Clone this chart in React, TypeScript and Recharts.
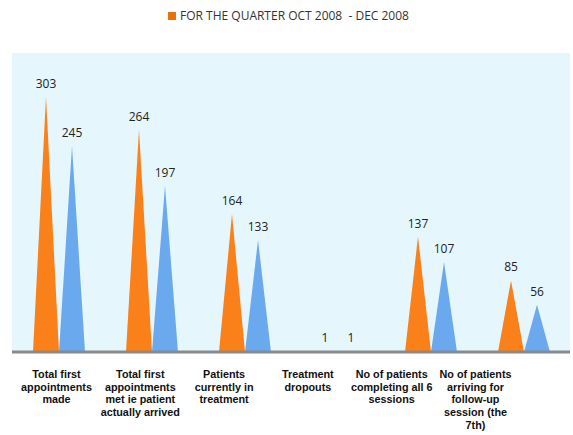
import React from 'react';
import { BarChart, Bar, XAxis, YAxis, CartesianGrid, LabelList } from 'recharts';

const categories = [
  ['Total first', 'appointments', 'made'],
  ['Total first', 'appointments', 'met ie patient', 'actually arrived'],
  ['Patients', 'currently in', 'treatment'],
  ['Treatment', 'dropouts'],
  ['No of patients', 'completing all 6', 'sessions'],
  ['No of patients', 'arriving for', 'follow-up', 'session (the', '7th)'],
];
const quarterValues = [303, 264, 164, 1, 137, 85];
const otherValues = [245, 197, 133, 1, 107, 56];

const LEGEND_NAME = 'FOR THE QUARTER OCT 2008  - DEC 2008';
const ORANGE = '#fa8019';
const BLUE = '#6ba9ef';

const data = categories.map((lines, i) => ({
  key: String(i),
  lines,
  quarter: quarterValues[i],
  other: otherValues[i],
}));

// cone-style bar: a triangle from the base to a point at the value
const Cone = (props: any) => {
  const { x, y, width, height, fill } = props;
  if (!height || height <= 0) return null;
  const d = `M${x},${y + height} L${x + width / 2},${y} L${x + width},${y + height} Z`;
  return <path d={d} fill={fill} />;
};

const CategoryTick = (props: any) => {
  const { x, y, index } = props;
  const lines: string[] = data[index]?.lines ?? [];
  // labels drift a little left of their bar pairs
  const cx = x - 2 - index * 9.2;
  return (
    <text
      x={cx}
      y={y + 18}
      textAnchor="middle"
      fontFamily="'Liberation Sans', Arial, sans-serif"
      fontWeight="bold"
      fontSize={10.8}
      fill="#111"
    >
      {lines.map((l, i) => (
        <tspan key={i} x={cx} dy={i === 0 ? 0 : 12.7}>
          {l}
        </tspan>
      ))}
    </text>
  );
};

export default function App() {
  return (
    <div style={{ position: 'absolute', left: 0, top: 0, width: 573, height: 435, background: '#fff' }}>
      <div
        style={{
          position: 'absolute',
          left: 168,
          top: 7,
          display: 'flex',
          alignItems: 'center',
          fontFamily: "'Open Sans', sans-serif",
          fontSize: 12,
          color: '#333',
          whiteSpace: 'pre',
        }}
      >
        <span style={{ width: 8, height: 8, background: '#e8720c', marginRight: 4, display: 'inline-block' }} />
        {LEGEND_NAME}
      </div>
      <BarChart
        width={573}
        height={435}
        data={data}
        margin={{ top: 53, right: 3, left: 12, bottom: 0 }}
        barSize={26}
        barGap={0}
      >
        <CartesianGrid horizontal={false} vertical={false} fill="#e5f7fd" stroke="none" />
        <YAxis hide domain={[0, 355]} />
        <XAxis
          dataKey="key"
          height={83}
          interval={0}
          tickLine={false}
          axisLine={{ stroke: '#8a8a8a', strokeWidth: 3 }}
          tick={<CategoryTick />}
        />
        <Bar dataKey="quarter" fill={ORANGE} shape={<Cone />} isAnimationActive={false}>
          <LabelList
            dataKey="quarter"
            position="top"
            offset={9}
            fill="#222"
            fontSize={12}
            fontFamily="'Open Sans', sans-serif"
          />
        </Bar>
        <Bar dataKey="other" fill={BLUE} shape={<Cone />} isAnimationActive={false}>
          <LabelList
            dataKey="other"
            position="top"
            offset={9}
            fill="#222"
            fontSize={12}
            fontFamily="'Open Sans', sans-serif"
          />
        </Bar>
      </BarChart>
    </div>
  );
}
